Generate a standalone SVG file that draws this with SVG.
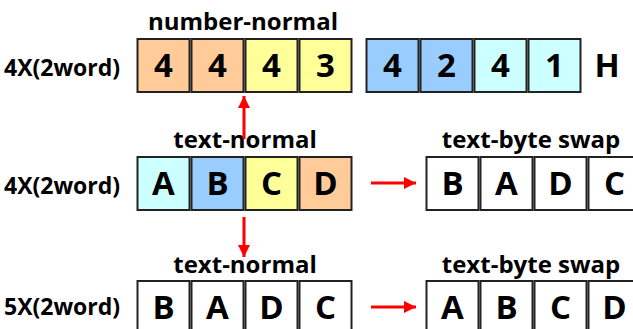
<svg xmlns="http://www.w3.org/2000/svg" width="633" height="329" viewBox="0 0 633 329">
<defs>
<style>
.box{stroke:#222;stroke-width:2}
.o{fill:#FFCC99}.y{fill:#FFFF99}.b{fill:#99CCFF}.c{fill:#CCFFFF}.w{fill:#FFFFFF}
.big{font-family:"Open Sans","Noto Sans",sans-serif;font-weight:bold;font-size:33px;text-anchor:middle;fill:#000}
.lbl{font-family:"Open Sans","Noto Sans",sans-serif;font-weight:bold;font-size:24px;text-anchor:middle;fill:#000}
.side{font-family:"Open Sans","Noto Sans",sans-serif;font-weight:bold;font-size:23px;fill:#000}
.arr{stroke:#FF0000;stroke-width:3;fill:none}
</style>
<marker id="ah" viewBox="0 0 10 10" refX="10" refY="5" markerWidth="18" markerHeight="12" markerUnits="userSpaceOnUse" orient="auto">
<path d="M0,0 L10,5 L0,10 z" fill="#FF0000"/>
</marker>
</defs>

<g id="labels">
<text class="side" x="4" y="76">4X(2word)</text>
<text class="side" x="4" y="194">4X(2word)</text>
<text class="side" x="4" y="315">5X(2word)</text>
<text class="lbl" x="243" y="30">number-normal</text>
<text class="lbl" x="245" y="148">text-normal</text>
<text class="lbl" x="531" y="148">text-byte swap</text>
<text class="lbl" x="245" y="273">text-normal</text>
<text class="lbl" x="531" y="273">text-byte swap</text>
</g>

<g id="number-normal">
<rect class="box o" x="137.5" y="39" width="52" height="53"/><text class="big" x="163.5" y="77">4</text>
<rect class="box o" x="191.5" y="39" width="52" height="53"/><text class="big" x="217.5" y="77">4</text>
<rect class="box y" x="245.5" y="39" width="52" height="53"/><text class="big" x="271.5" y="77">4</text>
<rect class="box y" x="299.5" y="39" width="52" height="53"/><text class="big" x="325.5" y="77">3</text>
<rect class="box b" x="366.5" y="39" width="52" height="53"/><text class="big" x="392.5" y="77">4</text>
<rect class="box b" x="420.5" y="39" width="52" height="53"/><text class="big" x="446.5" y="77">2</text>
<rect class="box c" x="474.5" y="39" width="52" height="53"/><text class="big" x="500.5" y="77">4</text>
<rect class="box c" x="528.5" y="39" width="52" height="53"/><text class="big" x="554.5" y="77">1</text>
<text class="big" x="607" y="77">H</text>
</g>

<g id="text-normal-4x">
<rect class="box c" x="137.5" y="157" width="52" height="53"/><text class="big" x="163.5" y="195">A</text>
<rect class="box b" x="191.5" y="157" width="52" height="53"/><text class="big" x="217.5" y="195">B</text>
<rect class="box y" x="245.5" y="157" width="52" height="53"/><text class="big" x="271.5" y="195">C</text>
<rect class="box o" x="299.5" y="157" width="52" height="53"/><text class="big" x="325.5" y="195">D</text>
</g>

<g id="text-swap-4x">
<rect class="box w" x="426.5" y="157" width="52" height="53"/><text class="big" x="452.5" y="195">B</text>
<rect class="box w" x="480.5" y="157" width="52" height="53"/><text class="big" x="506.5" y="195">A</text>
<rect class="box w" x="534.5" y="157" width="52" height="53"/><text class="big" x="560.5" y="195">D</text>
<rect class="box w" x="588.5" y="157" width="52" height="53"/><text class="big" x="614.5" y="195">C</text>
</g>

<g id="text-normal-5x">
<rect class="box w" x="137.5" y="281" width="52" height="53"/><text class="big" x="163.5" y="319">B</text>
<rect class="box w" x="191.5" y="281" width="52" height="53"/><text class="big" x="217.5" y="319">A</text>
<rect class="box w" x="245.5" y="281" width="52" height="53"/><text class="big" x="271.5" y="319">D</text>
<rect class="box w" x="299.5" y="281" width="52" height="53"/><text class="big" x="325.5" y="319">C</text>
</g>

<g id="text-swap-5x">
<rect class="box w" x="426.5" y="281" width="52" height="53"/><text class="big" x="452.5" y="319">A</text>
<rect class="box w" x="480.5" y="281" width="52" height="53"/><text class="big" x="506.5" y="319">B</text>
<rect class="box w" x="534.5" y="281" width="52" height="53"/><text class="big" x="560.5" y="319">C</text>
<rect class="box w" x="588.5" y="281" width="52" height="53"/><text class="big" x="614.5" y="319">D</text>
</g>

<g id="connectors">
<line class="arr" x1="244" y1="139" x2="244" y2="96" marker-end="url(#ah)"/>
<line class="arr" x1="244" y1="217" x2="244" y2="257" marker-end="url(#ah)"/>
<line class="arr" x1="371" y1="183" x2="416" y2="183" marker-end="url(#ah)"/>
<line class="arr" x1="371" y1="307" x2="416" y2="307" marker-end="url(#ah)"/>
</g>
</svg>
